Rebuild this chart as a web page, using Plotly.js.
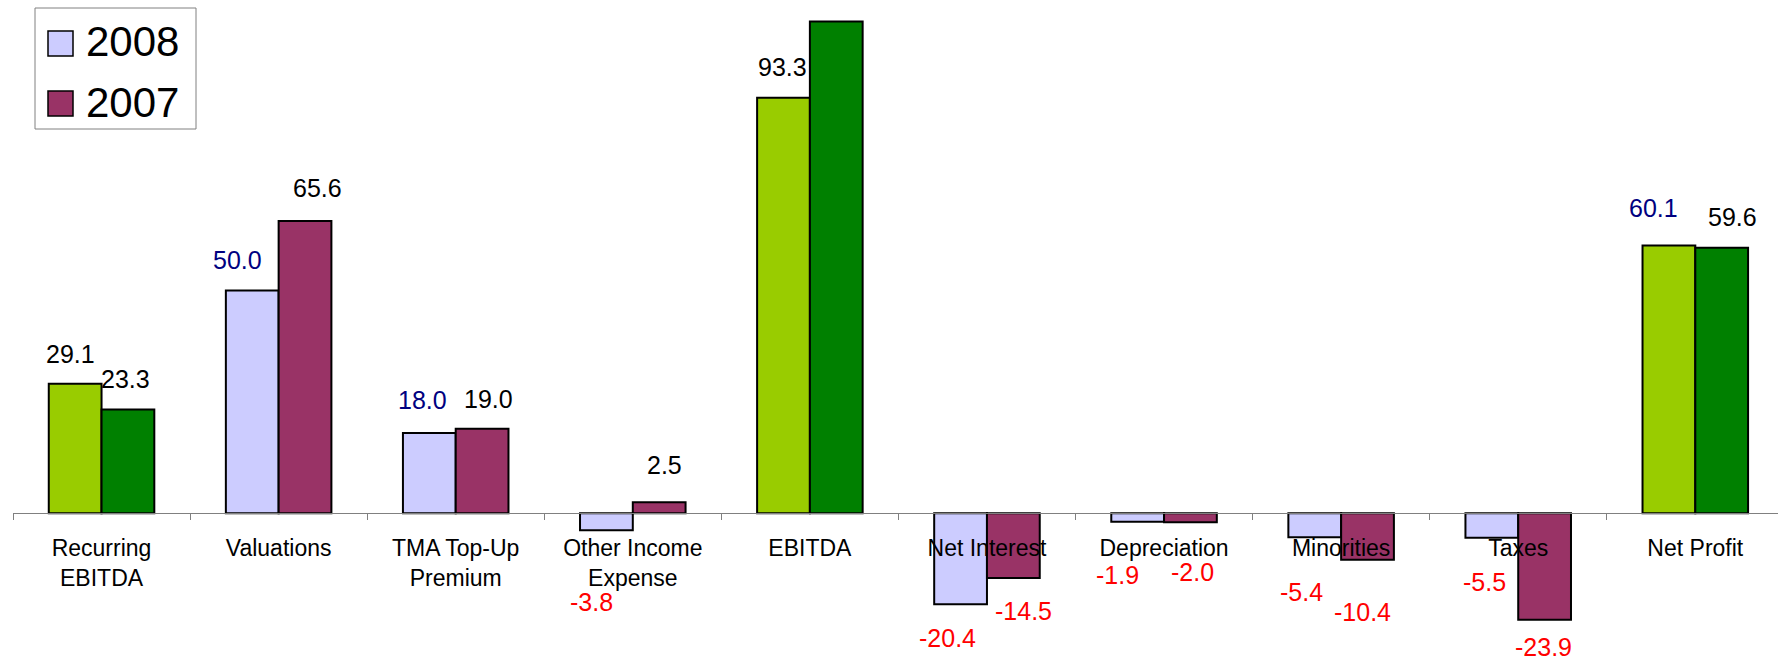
<!DOCTYPE html>
<html>
<head>
<meta charset="utf-8">
<script src="https://cdn.plot.ly/plotly-3.0.1.min.js"></script>
<style>
  html, body { margin: 0; padding: 0; background: #ffffff; overflow: hidden; }
  #chart { width: 1778px; height: 660px; }
</style>
</head>
<body>
<div id="chart"></div>
<script>
// Profit bridge, 2008 vs 2007 (EUR m)
const categories = [
  'Recurring<br>EBITDA', 'Valuations', 'TMA Top-Up<br>Premium', 'Other Income<br>Expense',
  'EBITDA', 'Net Interest', 'Depreciation', 'Minorities', 'Taxes', 'Net Profit'
];
const seriesNames = ['2008', '2007'];
const values2008 = [29.1, 50.0, 18.0, -3.8, 93.3, -20.4, -1.9, -5.4, -5.5, 60.1];
const values2007 = [23.3, 65.6, 19.0, 2.5, 110.4, -14.5, -2.0, -10.4, -23.9, 59.6];
// Subtotal rows are drawn in green
const subtotalCategories = ['Recurring<br>EBITDA', 'EBITDA', 'Net Profit'];
// Which value labels are printed
const showLabel2008 = [true, true, true, true, true, true, true, true, true, true];
const showLabel2007 = [true, true, true, true, false, true, true, true, true, true];
// 2008 labels printed in navy
const navyLabels2008 = ['Valuations', 'TMA Top-Up<br>Premium', 'Net Profit'];

// ---- styling ----
const FONT = 'Arial, "Liberation Sans", sans-serif';
const COL_2008 = '#CCCCFF';
const COL_2007 = '#993366';
const COL_SUB_2008 = '#99CC00';
const COL_SUB_2007 = '#008000';

// Label nudges in screen pixels [dx, dy], dy measured downward from the bar end
const labelNudge2008 = [[-5,-30],[-15,-31],[-7,-33],[-15,72],[-1,-31],[-13,34],[-20,53],[-13,55],[-7,44],[-15,-38]];
const labelNudge2007 = [[-2,-31],[12,-33],[6,-30],[5,-37],[0,0],[10,33],[2,50],[-5,52],[-1,27],[11,-31]];

const W = 1778, H = 660;
const M = {l: 13, r: 0, t: 0, b: 0};
const plotW = W - M.l - M.r, plotH = H - M.t - M.b;
const yRange = [-32.93, 115.22];
const xRange = [-0.5, 9.467];
const catPx = plotW / (xRange[1] - xRange[0]);
const zeroFrac = (0 - yRange[0]) / (yRange[1] - yRange[0]);
const bargap = 0.404;
const halfBar = catPx * (1 - bargap) / 4;

const colorsFor = (base, sub) => categories.map(c => subtotalCategories.includes(c) ? sub : base);

const traces = [
  {
    type: 'bar', name: seriesNames[0], x: categories, y: values2008,
    marker: {color: colorsFor(COL_2008, COL_SUB_2008), line: {color: '#000000', width: 2}},
    showlegend: false, hoverinfo: 'x+y'
  },
  {
    type: 'bar', name: seriesNames[1], x: categories, y: values2007,
    marker: {color: colorsFor(COL_2007, COL_SUB_2007), line: {color: '#000000', width: 2}},
    showlegend: false, hoverinfo: 'x+y'
  }
];

const annotations = [];
function addLabels(vals, show, nudge, side, colorOf) {
  vals.forEach((v, i) => {
    if (!show[i]) return;
    annotations.push({
      x: categories[i], y: v, xref: 'x', yref: 'y',
      text: v.toFixed(1), showarrow: false,
      xanchor: 'center', yanchor: 'middle',
      xshift: side * halfBar + nudge[i][0],
      yshift: -nudge[i][1],
      font: {family: FONT, size: 25, color: colorOf(v, i)}
    });
  });
}
addLabels(values2008, showLabel2008, labelNudge2008, -1,
  (v, i) => v < 0 ? '#FF0000' : (navyLabels2008.includes(categories[i]) ? '#000080' : '#000000'));
addLabels(values2007, showLabel2007, labelNudge2007, 1,
  (v) => v < 0 ? '#FF0000' : '#000000');

// Legend panel drawn in paper space
const px2x = px => (px - M.l) / plotW;
const px2y = py => 1 - (py - M.t) / plotH;
const shapes = [
  {type: 'rect', xref: 'paper', yref: 'paper', x0: px2x(35), x1: px2x(196), y0: px2y(8), y1: px2y(129),
   fillcolor: '#FFFFFF', line: {color: '#808080', width: 1}, layer: 'above'},
  {type: 'rect', xref: 'paper', yref: 'paper', x0: px2x(48), x1: px2x(73), y0: px2y(31), y1: px2y(56),
   fillcolor: COL_2008, line: {color: '#000000', width: 1.5}, layer: 'above'},
  {type: 'rect', xref: 'paper', yref: 'paper', x0: px2x(48), x1: px2x(73), y0: px2y(91), y1: px2y(116),
   fillcolor: COL_2007, line: {color: '#000000', width: 1.5}, layer: 'above'}
];
[[seriesNames[0], 42], [seriesNames[1], 102]].forEach(([name, cy]) => {
  annotations.push({
    xref: 'paper', yref: 'paper', x: px2x(84), y: px2y(cy),
    xanchor: 'left', yanchor: 'middle', showarrow: false,
    text: name, font: {family: FONT, size: 42, color: '#000000'}
  });
});

const layout = {
  width: W, height: H,
  margin: M,
  paper_bgcolor: '#FFFFFF', plot_bgcolor: '#FFFFFF',
  font: {family: FONT, color: '#000000'},
  barmode: 'group', bargap: bargap, bargroupgap: 0,
  showlegend: false,
  xaxis: {
    type: 'category', range: xRange,
    anchor: 'free', position: zeroFrac,
    showline: true, linecolor: '#808080', linewidth: 1,
    ticks: 'outside', tickson: 'boundaries', ticklen: 6, tickcolor: '#808080', tickwidth: 1,
    tickfont: {family: FONT, size: 23, color: '#000000'},
    ticklabelstandoff: 14,
    showgrid: false, zeroline: false, fixedrange: true
  },
  yaxis: {
    range: yRange, visible: false, showgrid: false, zeroline: false, fixedrange: true
  },
  annotations: annotations,
  shapes: shapes
};

Plotly.newPlot('chart', traces, layout, {displayModeBar: false, staticPlot: true});
</script>
</body>
</html>
